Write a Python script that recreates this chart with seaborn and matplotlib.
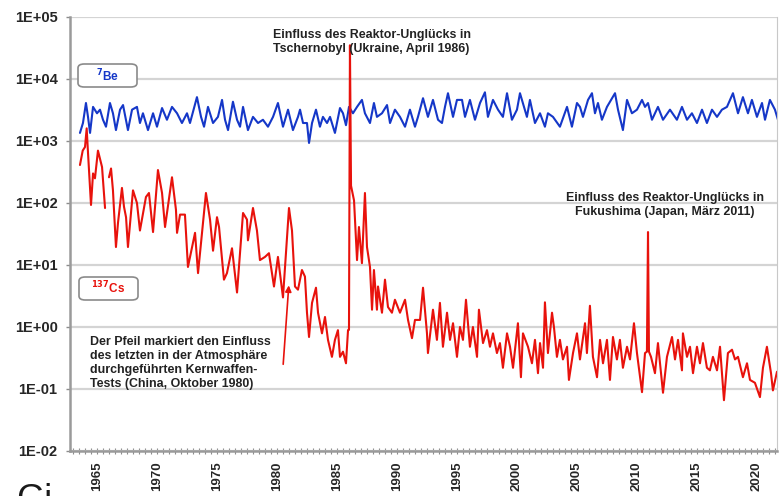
import numpy as np
import pandas as pd
import seaborn as sns
import matplotlib.pyplot as plt
from matplotlib.ticker import MultipleLocator, FuncFormatter, LogLocator, NullLocator
from matplotlib.patches import FancyBboxPatch

be7_jahr = [1963.58, 1963.83, 1964.08, 1964.25, 1964.42, 1964.67, 1965.0, 1965.25, 1965.5, 1965.75,
            1966.08, 1966.33, 1966.58, 1966.92, 1967.17, 1967.58, 1967.92, 1968.33, 1968.58, 1968.83,
            1969.25, 1969.67, 1970.0, 1970.42, 1970.83, 1971.25, 1971.67, 1972.08, 1972.5, 1972.75,
            1973.08, 1973.33, 1973.67, 1973.92, 1974.25, 1974.67, 1975.08, 1975.42, 1975.67, 1975.92,
            1976.33, 1976.67, 1976.92, 1977.17, 1977.58, 1978.0, 1978.42, 1978.83, 1979.25, 1979.67,
            1980.08, 1980.5, 1980.92, 1981.33, 1981.75, 1981.92, 1982.17, 1982.5, 1982.67, 1982.92,
            1983.25, 1983.58, 1983.83, 1984.17, 1984.42, 1984.83, 1985.25, 1985.5, 1985.75, 1986.0,
            1986.33, 1986.67, 1987.08, 1987.33, 1987.75, 1988.08, 1988.33, 1988.75, 1989.17, 1989.42,
            1989.83, 1990.25, 1990.67, 1991.08, 1991.5, 1991.75, 1992.17, 1992.58, 1993.0, 1993.42,
            1993.75, 1994.0, 1994.25, 1994.67, 1995.0, 1995.42, 1995.67, 1996.08, 1996.5, 1996.92,
            1997.33, 1997.58, 1998.0, 1998.42, 1998.83, 1999.17, 1999.58, 2000.0, 2000.25, 2000.83,
            2001.08, 2001.5, 2001.92, 2002.33, 2002.58, 2003.0, 2003.58, 2004.17, 2004.58, 2005.0,
            2005.25, 2005.5, 2005.92, 2006.25, 2006.5, 2006.75, 2007.08, 2007.5, 2008.17, 2008.42,
            2008.83, 2009.17, 2009.58, 2010.0, 2010.42, 2010.67, 2010.92, 2011.25, 2011.75, 2012.17,
            2012.75, 2013.33, 2013.75, 2014.17, 2014.58, 2015.0, 2015.42, 2015.83, 2016.25, 2016.67,
            2017.08, 2017.5, 2018.0, 2018.42, 2018.83, 2019.25, 2019.58, 2020.0, 2020.42, 2020.67,
            2021.08, 2021.5, 2021.75]
be7_wert = [1350, 1950, 4100, 2450, 1350, 3550, 2800, 3200, 2200, 1700,
            4100, 2800, 1500, 3200, 3800, 1500, 3200, 3550, 1950, 2800,
            1500, 2800, 1700, 3400, 2200, 3550, 2800, 1950, 2800, 1950,
            3400, 5100, 2450, 1700, 3550, 1950, 2450, 4600, 2200, 1500,
            4300, 2200, 1700, 3550, 1500, 2450, 1950, 2200, 1700, 2450,
            4100, 1700, 3200, 1500, 2450, 3200, 1950, 1950, 930, 1950,
            3200, 1700, 2450, 1950, 2450, 1350, 3400, 2800, 1800, 3550,
            2800, 3550, 4600, 2800, 1950, 4100, 2450, 2800, 3800, 1950,
            3200, 2450, 1700, 3200, 1700, 2450, 4900, 2450, 4600, 2200,
            1950, 3550, 5900, 2450, 4600, 4600, 2450, 4600, 2200, 4100,
            6100, 2450, 4600, 3200, 2450, 5900, 2200, 3200, 5900, 2450,
            4600, 1950, 2800, 1700, 2800, 2450, 1700, 3550, 1700, 4100,
            3550, 2450, 4600, 5900, 2800, 4100, 2200, 3550, 5900, 3200,
            1500, 4600, 2800, 3200, 4600, 3550, 4100, 2200, 3550, 2200,
            3200, 2200, 3550, 2200, 2800, 1950, 3200, 1950, 3200, 2450,
            3200, 3550, 5900, 2800, 5100, 2800, 4600, 2450, 4100, 2200,
            4600, 3200, 2200]

# Cs-137 (rot); None = Messluecke
cs137_jahr = [1963.58, 1963.81, 1964.0, 1964.14, 1964.25, 1964.5, 1964.67, 1964.83, 1965.08, 1965.42,
              1965.67, 1965.83, 1966.0, 1966.17, 1966.33, 1966.58, 1966.75, 1967.08, 1967.25, 1967.42,
              1967.58, 1968.0, 1968.33, 1968.58, 1969.08, 1969.33, 1969.67, 1970.08, 1970.42, 1970.67,
              1971.25, 1971.58, 1971.67, 1971.92, 1972.33, 1972.58, 1973.17, 1973.42, 1974.08, 1974.42,
              1974.67, 1975.0, 1975.17, 1975.58, 1975.83, 1976.25, 1976.67, 1977.17, 1977.5, 1977.58,
              1978.0, 1978.33, 1978.58, 1979.0, 1979.33, 1979.75, 1980.08, 1980.5, 1981.0, 1981.25,
              1981.5, 1981.75, 1982.08, 1982.33, 1982.5, 1982.67, 1982.92, 1983.25, 1983.42, 1983.75,
              1984.0, 1984.25, 1984.58, 1984.83, 1985.08, 1985.25, 1985.5, 1985.75, 1985.92, 1986.0,
              1986.08, 1986.17, 1986.25, 1986.42, 1986.67, 1986.83, 1987.08, 1987.33, 1987.5, 1987.75,
              1987.92, 1988.08, 1988.33, 1988.42, 1988.75, 1989.0, 1989.25, 1989.58, 1989.83, 1990.25,
              1990.67, 1990.92, 1991.25, 1991.5, 1991.92, 1992.17, 1992.5, 1992.58, 1993.0, 1993.33,
              1993.58, 1993.83, 1994.17, 1994.42, 1994.67, 1995.0, 1995.25, 1995.5, 1995.75, 1996.08,
              1996.33, 1996.67, 1996.83, 1997.17, 1997.5, 1997.75, 1998.0, 1998.33, 1998.58, 1998.83,
              1999.17, 1999.42, 1999.67, 2000.08, 2000.33, 2000.5, 2000.92, 2001.25, 2001.5, 2001.75,
              2001.92, 2002.17, 2002.33, 2002.58, 2002.92, 2003.08, 2003.33, 2003.58, 2003.83, 2004.17,
              2004.33, 2004.67, 2005.0, 2005.25, 2005.67, 2005.83, 2006.08, 2006.33, 2006.67, 2006.92,
              2007.17, 2007.5, 2007.75, 2008.0, 2008.33, 2008.58, 2008.83, 2009.17, 2009.42, 2009.75,
              2010.0, 2010.42, 2010.67, 2010.83, 2010.92, 2011.0, 2011.17, 2011.5, 2011.75, 2012.17,
              2012.5, 2012.92, 2013.17, 2013.42, 2013.75, 2013.83, 2014.17, 2014.42, 2014.67, 2015.0,
              2015.25, 2015.5, 2015.83, 2016.08, 2016.33, 2016.67, 2016.92, 2017.25, 2017.58, 2017.92,
              2018.17, 2018.42, 2018.83, 2019.17, 2019.42, 2019.83, 2020.25, 2020.5, 2020.83, 2021.17,
              2021.33, 2021.67]
cs137_wert = [410, 700, 800, 1600, 650, 93, 300, 250, 700, 380,
              83, None, 260, 360, 160, 19.5, 48, 175, 87, 59,
              19.5, 160, 100, 36, 125, 145, 34, 340, 145, 41,
              260, 78, 33, 65, 65, 9.3, 33, 7.4, 145, 54,
              17, 59, 41, 5.8, 7.4, 18.6, 3.6, 69, 54, 25,
              83, 36, 12, 13.5, 15.5, 4.5, 13.5, 3.0, 83, 36,
              4.5, 4.0, 8.3, 6.5, 1.7, 0.69, 2.45, 4.3, 1.7, 0.79,
              1.45, 0.62, 0.33, 0.62, 0.89, 0.33, 0.40, 0.26, 0.89, 0.9,
              35000, 190, 160, 110, 12, 41, 10.7, 145, 19.5, 9.3,
              1.9, 8.3, 1.9, 4.5, 1.7, 5.8, 2.1, 1.7, 2.75, 1.7,
              2.75, 1.3, 0.66, 1.3, 1.3, 4.3, 0.79, 0.38, 1.9, 0.62,
              2.45, 0.48, 1.7, 0.62, 1.15, 0.33, 1.0, 0.62, 2.75, 0.48,
              1.0, 0.33, 1.9, 0.55, 0.89, 0.48, 0.79, 0.38, 0.55, 0.22,
              0.79, 0.48, 0.22, 1.15, 0.155, 0.79, 0.48, 0.26, 0.62, 0.18,
              0.55, 0.22, 2.5, 0.38, 1.7, 1.0, 0.33, 0.62, 0.30, 0.48,
              0.14, 0.38, 0.79, 0.30, 1.15, 0.38, 2.2, 0.33, 0.155, 0.62,
              0.26, 0.62, 0.14, 0.69, 0.30, 0.62, 0.22, 0.48, 0.30, 1.15,
              0.38, 0.089, 0.38, 0.40, 34, 0.40, 0.33, 0.18, 0.55, 0.087,
              0.33, 0.69, 0.30, 0.62, 0.20, 0.79, 0.33, 0.48, 0.18, 0.48,
              0.26, 0.55, 0.22, 0.20, 0.33, 0.20, 0.48, 0.066, 0.38, 0.43,
              0.30, 0.33, 0.155, 0.26, 0.14, 0.126, 0.074, 0.22, 0.48, 0.18,
              0.095, 0.19]

jahre_beschriftet = [1965, 1970, 1975, 1980, 1985, 1990, 1995, 2000, 2005, 2010, 2015, 2020]

df_be = pd.DataFrame({"Jahr": be7_jahr, "Wert": be7_wert, "Nuklid": "Be-7"})
df_be["Abschnitt"] = 0
df_cs = pd.DataFrame({"Jahr": cs137_jahr, "Wert": cs137_wert, "Nuklid": "Cs-137"})
df_cs["Wert"] = df_cs["Wert"].astype(float)
df_cs["Abschnitt"] = df_cs["Wert"].isna().cumsum()
df = pd.concat([df_be, df_cs]).dropna()

sns.set_theme(style="white")
plt.rcParams["font.family"] = ["Liberation Sans", "DejaVu Sans"]
plt.rcParams["font.weight"] = "bold"

fig = plt.figure(figsize=(7.8, 4.96), dpi=100)
ax = fig.add_axes([70 / 780, 1 - 451 / 496, 707 / 780, 434 / 496])
ax.set_yscale("log")

sns.lineplot(data=df, x="Jahr", y="Wert", hue="Nuklid", units="Abschnitt",
             estimator=None, palette={"Be-7": "#1537c8", "Cs-137": "#e8120c"},
             linewidth=1.5, legend=False, ax=ax)

ax.set_xlim(1962.75, 2021.67)
ax.set_ylim(1e-2, 1e5)
ax.set_xlabel("")
ax.set_ylabel("")

# Achsen
ax.yaxis.set_major_locator(LogLocator(base=10, numticks=10))
ax.yaxis.set_minor_locator(NullLocator())
ax.yaxis.set_major_formatter(FuncFormatter(lambda v, p: f"1E{int(round(np.log10(v))):+03d}"))
ax.set_xticks(jahre_beschriftet)
ax.set_xticklabels([str(j) for j in jahre_beschriftet], rotation=90)
ax.xaxis.set_minor_locator(MultipleLocator(0.5))
ax.tick_params(axis="x", which="both", bottom=True, direction="inout", length=5, width=0.8,
               color="#8c8c8c", labelsize=9.5, pad=5)
ax.tick_params(axis="y", left=True, direction="out", length=3, width=1, color="#8c8c8c",
               labelsize=10.5, pad=6)
for lab in ax.get_xticklabels() + ax.get_yticklabels():
    lab.set_fontweight("bold")

ax.grid(axis="y", color="#d4d4d4", linewidth=1.6)
ax.grid(axis="x", visible=False)
for s in ["left", "bottom"]:
    ax.spines[s].set_color("#9a9a9a")
    ax.spines[s].set_linewidth(1.8)
ax.spines["right"].set_color("#c8c8c8")
ax.spines["right"].set_linewidth(0.8)
ax.spines["top"].set_visible(False)

# Beschriftungen
txt = dict(fontsize=8.9, fontweight="bold", color="#222222", linespacing=1.22)
ax.text(1979.67, 3.9e4, "Einfluss des Reaktor-Unglücks in\nTschernobyl (Ukraine, April 1986)",
        ha="left", va="center", **txt)
ax.text(2012.3, 92, "Einfluss des Reaktor-Unglücks in\nFukushima (Japan, März 2011)",
        ha="center", va="center", **txt)
ax.text(1964.42, 0.265, "Der Pfeil markiert den Einfluss\ndes letzten in der Atmosphäre\n"
        "durchgeführten Kernwaffen-\nTests (China, Oktober 1980)",
        ha="left", va="center", **txt)

ax.annotate("", xy=(1981.0, 5.2), xytext=(1980.5, 0.226),
            arrowprops=dict(arrowstyle="-|>", color="#e8120c", lw=1.2, mutation_scale=9))

# Nuklid-Kaestchen
for (x0, y0, label, farbe) in [(78, 64, "$^{7}$Be", "#1537c8"), (79, 277, "$^{137}$Cs", "#e8120c")]:
    box = FancyBboxPatch((x0 / 780, 1 - (y0 + 23) / 496), 59 / 780, 23 / 496,
                         boxstyle="round,pad=0,rounding_size=0.008", transform=fig.transFigure,
                         facecolor="white", edgecolor="#8a8a8a", linewidth=1.2, zorder=5)
    fig.patches.append(box)
    fig.text((x0 + 29.5) / 780, 1 - (y0 + 11.5) / 496, label, ha="center", va="center",
             fontsize=8.5, fontweight="bold", color=farbe, zorder=6)

# angeschnittene Beschriftung am unteren Bildrand
fig.text(16 / 780, -22 / 496, "Gi", fontsize=26, fontweight="normal", color="#1a1a1a",
         ha="left", va="bottom")

fig.savefig("out.png", dpi=100)
